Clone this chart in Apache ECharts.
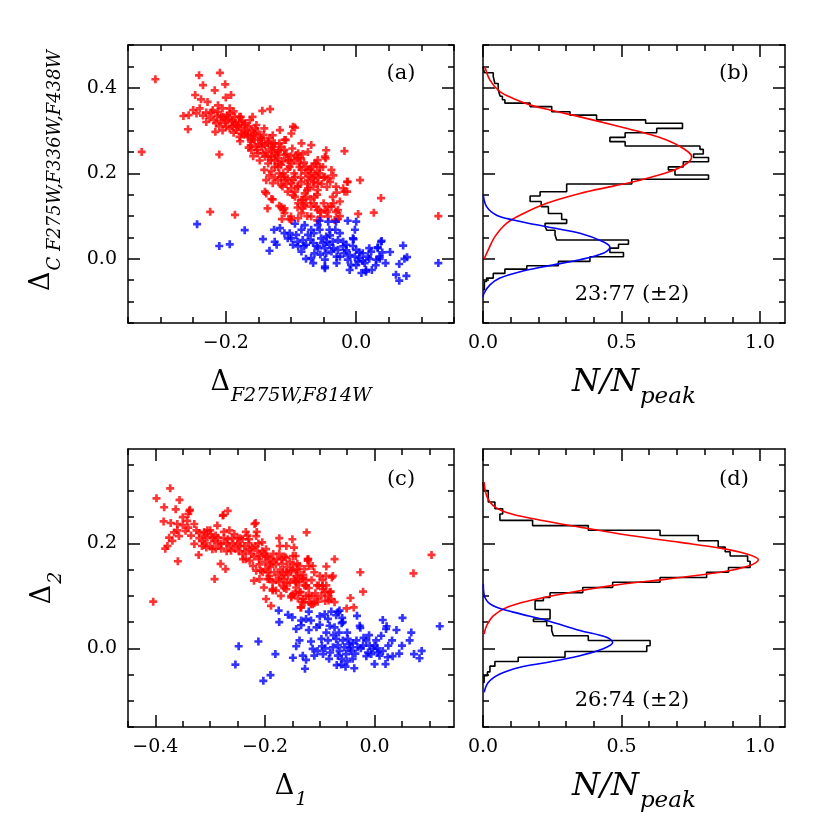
<!DOCTYPE html>
<html><head><meta charset="utf-8">
<script src="https://cdn.jsdelivr.net/npm/echarts@6/dist/echarts.min.js"></script>
<style>html,body{margin:0;padding:0;background:#fff}#c{width:830px;height:830px}</style>
</head><body><div id="c"></div><script>
// ---------------- DATA ----------------
// Panel (a): Delta F275W,F814W vs Delta C F275W,F336W,F438W
const redA = [[-0.329,0.25],[-0.308,0.42],[-0.241,0.429],[-0.209,0.435],[-0.235,0.406],[-0.201,0.408],[-0.217,0.394],[-0.247,0.383],[-0.265,0.334],[-0.258,0.303],[-0.21,0.244],[-0.224,0.11],[-0.186,0.103],[-0.144,0.346],[-0.132,0.35],[-0.094,0.307],[-0.018,0.252],[-0.046,0.254],[0.006,0.184],[-0.014,0.18],[0.038,0.142],[0.027,0.108],[0.003,0.105],[0.126,0.1],[-0.018,0.157],[-0.031,0.11],[-0.038,0.208],[-0.047,0.235],[-0.117,0.301],
[-0.238,0.373],[-0.228,0.367],[-0.2,0.377],[-0.192,0.383],[-0.25,0.348],[-0.257,0.336],[-0.24,0.352],[-0.23,0.342],[-0.216,0.297],[-0.22,0.348],[-0.212,0.359],[-0.205,0.352],[-0.215,0.317],[-0.207,0.332],[-0.2,0.309],[-0.194,0.34],[-0.189,0.324],[-0.184,0.301],[-0.177,0.332],[-0.171,0.313],[-0.179,0.285],[-0.166,0.289],[-0.159,0.332],[-0.161,0.274],[-0.151,0.297],[-0.154,0.262],[-0.146,0.282],[-0.138,0.25],[-0.141,0.305],[-0.136,0.27],[-0.131,0.231],[-0.128,0.289],[-0.141,0.208],[-0.138,0.184],[-0.138,0.153],[-0.128,0.139],[-0.136,0.118],[-0.118,0.254],[-0.12,0.215],[-0.115,0.192],[-0.113,0.169],[-0.118,0.124],[-0.11,0.118],[-0.114,0.093],[-0.108,0.278],[-0.103,0.231],[-0.1,0.099],[-0.097,0.149],[-0.097,0.309],[-0.105,0.188],
[-0.0995,0.293],[-0.069,0.266],[-0.074,0.25],[-0.048,0.239],[-0.061,0.223],[-0.043,0.188],[-0.056,0.2],[-0.031,0.169],[-0.02,0.165],[-0.013,0.18],[-0.014,0.157],[-0.025,0.134],[-0.036,0.145],[-0.038,0.122],[-0.028,0.114],[-0.033,0.091],[-0.028,0.093],[-0.054,0.099],[-0.048,0.114],[-0.061,0.122],[-0.069,0.099],[-0.084,0.107],[-0.089,0.13],[-0.082,0.138],[-0.077,0.145],[-0.112,0.114],[-0.115,0.121],[-0.102,0.093],[-0.13,0.14],[-0.128,0.177],[-0.115,0.173],[-0.11,0.192],[-0.097,0.184],[-0.094,0.157],[-0.084,0.18],[-0.074,0.165],[-0.066,0.188],[-0.059,0.161],[-0.074,0.208],[-0.087,0.215],[-0.0995,0.223],[-0.12,0.223],[-0.13,0.239],[-0.143,0.247],[-0.125,0.27],[-0.11,0.278],[-0.089,0.247],[-0.084,0.27],[-0.059,0.231],[-0.051,0.215],
[-0.191,0.32],[-0.181,0.309],[-0.171,0.317],[-0.161,0.301],[-0.166,0.285],[-0.156,0.278],[-0.145,0.262],[-0.151,0.247],[-0.14,0.239],[-0.13,0.254],[-0.135,0.223],[-0.125,0.215],[-0.12,0.235],[-0.112,0.2],[-0.11,0.184],[-0.102,0.215],[-0.094,0.192],[-0.089,0.169],[-0.084,0.208],[-0.079,0.153],[-0.077,0.13],[-0.069,0.122],[-0.084,0.138],[-0.064,0.145],[-0.059,0.177],[-0.048,0.192],[-0.043,0.122],[-0.089,0.095],[-0.11,0.107],[-0.0995,0.091],[-0.14,0.157],[-0.12,0.184],[-0.161,0.254],[-0.176,0.293],[-0.186,0.332],[-0.194,0.305],[-0.201,0.317],[-0.204,0.332],[-0.212,0.344],[-0.194,0.352],[-0.179,0.332],[-0.163,0.324],[-0.153,0.313],[-0.156,0.293],[-0.145,0.278],[-0.135,0.274],[-0.128,0.27],[-0.125,0.247],[-0.115,0.262],[-0.11,0.243],[-0.105,0.231],[-0.092,0.243],[-0.087,0.223],[-0.077,0.215],[-0.069,0.2],[-0.064,0.223],[-0.056,0.215],[-0.074,0.184],[-0.0995,0.177],[-0.105,0.157],[-0.094,0.145],[-0.066,0.169],[-0.082,0.118],[-0.059,0.114],[-0.043,0.099],
[-0.225,0.33],[-0.218,0.325],[-0.21,0.31],[-0.196,0.328],[-0.186,0.315],[-0.176,0.305],[-0.168,0.3],[-0.158,0.29],[-0.148,0.285],[-0.15,0.268],[-0.14,0.265],[-0.13,0.26],[-0.12,0.25],[-0.11,0.255],[-0.1,0.24],[-0.095,0.23],[-0.085,0.235],[-0.08,0.225],[-0.07,0.21],[-0.06,0.205],[-0.05,0.19],[-0.095,0.2],[-0.085,0.19],[-0.075,0.175],[-0.065,0.18],[-0.105,0.21],[-0.115,0.22],[-0.125,0.23],[-0.135,0.24],[-0.145,0.27],[-0.16,0.28],[-0.17,0.295],[-0.18,0.32],[-0.19,0.31],[-0.2,0.325],[-0.213,0.335],
[-0.222,0.342],[-0.208,0.322],[-0.198,0.336],[-0.188,0.345],[-0.183,0.312],[-0.175,0.322],[-0.165,0.31],[-0.155,0.305],[-0.172,0.29],[-0.162,0.265],[-0.152,0.255],[-0.142,0.29],[-0.133,0.283],[-0.127,0.262],[-0.118,0.27],[-0.122,0.242],[-0.113,0.228],[-0.107,0.245],[-0.098,0.258],[-0.09,0.235],[-0.082,0.245],[-0.078,0.2],[-0.072,0.193],[-0.068,0.215],[-0.063,0.195],[-0.058,0.19],[-0.053,0.175],[-0.045,0.168],[-0.04,0.18],[-0.035,0.195],[-0.03,0.155],[-0.06,0.15],[-0.07,0.14],[-0.075,0.16],[-0.09,0.17],[-0.1,0.165],[-0.107,0.175],[-0.118,0.2],[-0.125,0.19],[-0.13,0.205],[-0.133,0.195],[-0.148,0.23],[-0.158,0.24],[-0.165,0.26],[-0.178,0.275],[-0.188,0.295],[-0.205,0.3],[-0.23,0.32],[-0.235,0.335],[-0.245,0.34],[-0.09,0.12],[-0.08,0.125],[-0.065,0.13],[-0.05,0.13],[-0.055,0.11],[-0.045,0.11],[-0.035,0.13],[-0.025,0.1],[-0.06,0.09],[-0.075,0.1]];
const blueA = [[-0.244,0.081],[-0.21,0.03],[-0.194,0.034],[-0.171,0.067],[-0.143,0.046],[-0.133,0.019],[0.126,-0.01],[0.066,-0.051],[0.061,-0.037],[0.077,-0.04],[0.072,0.031],[0.066,-0.012],[0.074,0.0],[0.078,0.004],[0.052,0.016],[0.039,0.042],[0.036,0.0],[0.033,0.027],[0.024,-0.026],[0.015,-0.026],[0.008,-0.033],[-0.01,-0.026],[-0.013,0.089],[0.0,0.087],[-0.002,0.068],[-0.004,0.046],[-0.032,0.068],[-0.048,-0.022],[-0.077,0.0],
[-0.126,0.068],[-0.117,0.072],[-0.125,0.04],[-0.122,0.033],[-0.102,0.06],[-0.094,0.082],[-0.0995,0.048],[-0.097,0.033],[-0.092,0.056],[-0.084,0.068],[-0.079,0.079],[-0.082,0.044],[-0.084,0.017],[-0.074,0.056],[-0.077,0.033],[-0.066,0.037],[-0.069,0.002],[-0.064,0.013],[-0.066,-0.01],[-0.059,0.079],[-0.056,0.068],[-0.054,0.048],[-0.059,0.025],[-0.051,0.037],[-0.048,0.025],[-0.046,0.013],[-0.048,-0.002],[-0.048,-0.018],[-0.043,0.087],[-0.041,0.068],[-0.041,0.033],[-0.036,0.04],[-0.038,0.017],[-0.031,0.087],[-0.028,0.044],[-0.028,0.021],[-0.025,0.005],[-0.02,0.029],[-0.018,0.013],[-0.015,0.033],[-0.013,-0.002],[-0.01,0.009],[-0.008,-0.014],[-0.005,0.048],[-0.002,0.005],[0.0,0.021],[0.003,-0.006],[0.005,0.002],[0.01,0.013],[0.013,-0.01],[0.015,-0.03],[0.018,0.005],[0.023,0.017],[0.031,-0.002],[0.033,0.025],[0.036,0.005],[0.038,0.04],[-0.046,0.052],[-0.056,0.089],[-0.069,0.068],[-0.089,0.029],[-0.105,0.048],
[-0.06,0.03],[-0.055,0.01],[-0.045,0.04],[-0.035,0.025],[-0.03,0.005],[-0.02,0.04],[-0.015,0.02],[-0.005,0.03],[0.005,0.015],[0.01,-0.005],[0.02,0.0],[-0.07,0.045],[-0.065,0.06],[-0.04,0.055],[-0.025,0.06],[-0.03,-0.01],[0.0,-0.015],[0.02,0.025],[0.04,0.015],[0.045,-0.01],[0.03,-0.015],[-0.08,0.03],[-0.09,0.04],[-0.11,0.06]];

// Panel (b): histogram of Delta C (bin edges, top to bottom) and N/Npeak heights
const histEdgesB = [0.450,0.435,0.426,0.410,0.395,0.380,0.372,0.364,0.356,0.344,0.336,0.325,0.317,0.305,0.295,0.284,0.274,0.264,0.256,0.245,0.237,0.227,0.215,0.208,0.196,0.186,0.175,0.157,0.147,0.134,0.122,0.106,0.092,0.083,0.075,0.067,0.056,0.044,0.034,0.025,0.015,0.005,-0.006,-0.016,-0.024,-0.034,-0.045,-0.053,-0.072];
const histHeightsB = [0.005,0.037,0.043,0.055,0.062,0.07,0.079,0.17,0.248,0.314,0.41,0.587,0.72,0.627,0.513,0.458,0.513,0.783,0.795,0.76,0.814,0.723,0.669,0.693,0.814,0.537,0.302,0.206,0.17,0.21,0.236,0.284,0.302,0.224,0.23,0.26,0.266,0.525,0.489,0.458,0.507,0.386,0.272,0.158,0.079,0.037,0.013,0.005];
const redFitB = [[0.007,0.449],[0.025,0.418],[0.061,0.391],[0.109,0.375],[0.17,0.36],[0.242,0.348],[0.35,0.332],[0.47,0.313],[0.567,0.297],[0.663,0.278],[0.723,0.258],[0.753,0.239],[0.735,0.223],[0.675,0.204],[0.567,0.184],[0.47,0.17],[0.35,0.153],[0.23,0.13],[0.146,0.106],[0.085,0.083],[0.043,0.052],[0.019,0.021],[0.004,0.0]];
const blueFitB = [[0.001,0.149],[0.013,0.122],[0.049,0.102],[0.109,0.091],[0.23,0.075],[0.35,0.06],[0.434,0.04],[0.458,0.027],[0.434,0.013],[0.35,-0.002],[0.23,-0.017],[0.134,-0.03],[0.061,-0.045],[0.025,-0.061],[0.004,-0.08],[0.0,-0.09]];

// Panel (c): Delta1 vs Delta2
const redC = [[-0.404,0.089],[-0.373,0.305],[-0.398,0.286],[-0.384,0.269],[-0.356,0.283],[-0.363,0.265],[-0.359,0.166],[-0.338,0.262],[-0.268,0.262],[-0.277,0.253],[-0.292,0.132],[-0.219,0.237],[-0.124,0.221],[-0.174,0.21],[-0.15,0.208],[-0.121,0.17],[-0.088,0.156],[-0.073,0.17],[-0.1,0.138],[-0.076,0.138],[-0.026,0.145],[-0.021,0.108],[-0.044,0.096],[-0.051,0.076],[-0.038,0.078],[0.071,0.143],[0.104,0.178],[-0.189,0.081],[-0.073,0.088],
[-0.149,0.103],[-0.134,0.078],[-0.128,0.088],[-0.116,0.084],[-0.11,0.086],[-0.089,0.138],[-0.078,0.135],[-0.095,0.119],[-0.091,0.107],[-0.08,0.108],[-0.097,0.1],[-0.084,0.091],[-0.122,0.17],[-0.119,0.157],[-0.125,0.119],[-0.143,0.116],[-0.152,0.097],[-0.174,0.126],[-0.198,0.094],[-0.186,0.11],[-0.161,0.113],[-0.167,0.145],[-0.192,0.138],[-0.21,0.132],[-0.216,0.148],[-0.143,0.138],[-0.131,0.133],[-0.145,0.128],
[-0.337,0.264],[-0.34,0.256],[-0.276,0.254],[-0.385,0.242],[-0.372,0.239],[-0.36,0.237],[-0.342,0.243],[-0.329,0.237],[-0.345,0.224],[-0.366,0.221],[-0.375,0.211],[-0.369,0.205],[-0.357,0.214],[-0.378,0.195],[-0.382,0.19],[-0.32,0.22],[-0.329,0.199],[-0.321,0.178],[-0.311,0.222],[-0.305,0.211],[-0.314,0.205],[-0.299,0.218],[-0.293,0.205],[-0.307,0.192],[-0.296,0.189],[-0.287,0.234],[-0.275,0.222],[-0.286,0.211],[-0.28,0.199],[-0.268,0.208],[-0.281,0.161],[-0.272,0.151],[-0.262,0.186],[-0.256,0.218],[-0.25,0.199],[-0.241,0.18],[-0.235,0.222],[-0.229,0.208],[-0.217,0.239],[-0.215,0.222],[-0.223,0.192],[-0.214,0.186],[-0.228,0.167],[-0.222,0.157],[-0.211,0.17],[-0.205,0.202],[-0.202,0.18],[-0.208,0.148],[-0.22,0.129],[-0.199,0.151],[-0.195,0.132],[-0.202,0.116],[-0.189,0.17],[-0.183,0.145],[-0.186,0.126],[-0.18,0.11],[-0.173,0.195],[-0.174,0.18],[-0.168,0.161],[-0.165,0.132],[-0.171,0.1],[-0.162,0.173],[-0.153,0.148],[-0.147,0.192],[-0.144,0.176],[-0.141,0.161],[-0.147,0.132],[-0.138,0.126],[-0.135,0.107],[-0.132,0.088],[-0.128,0.151],[-0.122,0.167],[-0.135,0.078],
[-0.241,0.208],[-0.228,0.189],[-0.216,0.214],[-0.21,0.176],[-0.198,0.189],[-0.204,0.145],[-0.192,0.132],[-0.186,0.113],[-0.167,0.119],[-0.161,0.145],[-0.152,0.1],[-0.143,0.126],[-0.137,0.107],[-0.131,0.094],[-0.119,0.088],[-0.113,0.084],[-0.104,0.089],[-0.094,0.113],[-0.082,0.107],[-0.079,0.094],[-0.113,0.157],[-0.137,0.157],[-0.149,0.176],[-0.161,0.195],
[-0.31,0.2],[-0.3,0.195],[-0.29,0.215],[-0.28,0.19],[-0.27,0.2],[-0.26,0.21],[-0.255,0.19],[-0.245,0.195],[-0.24,0.17],[-0.235,0.185],[-0.23,0.2],[-0.22,0.175],[-0.2,0.165],[-0.195,0.175],[-0.19,0.155],[-0.18,0.16],[-0.175,0.14],[-0.17,0.17],[-0.16,0.155],[-0.155,0.165],[-0.15,0.15],[-0.14,0.145],[-0.13,0.14],[-0.125,0.13],[-0.115,0.13],[-0.11,0.145],[-0.105,0.12],[-0.12,0.1],[-0.14,0.095],[-0.16,0.125],[-0.17,0.135],[-0.185,0.165],[-0.265,0.225],[-0.25,0.21],[-0.3,0.225],[-0.32,0.21],[-0.34,0.23],[-0.35,0.25],
[-0.335,0.215],[-0.325,0.225],[-0.315,0.195],[-0.305,0.225],[-0.295,0.21],[-0.285,0.2],[-0.275,0.21],[-0.265,0.195],[-0.258,0.2],[-0.248,0.185],[-0.238,0.195],[-0.232,0.215],[-0.225,0.18],[-0.218,0.195],[-0.212,0.2],[-0.205,0.185],[-0.198,0.175],[-0.192,0.16],[-0.185,0.18],[-0.178,0.17],[-0.172,0.15],[-0.165,0.175],[-0.158,0.14],[-0.155,0.125],[-0.148,0.16],[-0.142,0.15],[-0.135,0.135],[-0.128,0.12],[-0.12,0.115],[-0.115,0.1],[-0.108,0.105],[-0.102,0.12],[-0.095,0.13],[-0.088,0.12],[-0.085,0.1],[-0.09,0.09],[-0.105,0.095],[-0.125,0.1],[-0.145,0.105],[-0.165,0.115],[-0.18,0.13],[-0.195,0.145],[-0.21,0.16],[-0.235,0.17],[-0.245,0.21],[-0.27,0.185],[-0.29,0.19],[-0.31,0.215],[-0.35,0.235],[-0.36,0.225]];
const blueC = [[-0.254,-0.031],[-0.248,0.004],[-0.212,0.013],[-0.203,-0.062],[-0.19,-0.051],[-0.181,-0.011],[-0.175,0.072],[-0.174,0.05],[-0.127,-0.039],[-0.149,-0.018],[-0.158,0.064],[-0.12,0.07],[0.119,0.042],[0.086,-0.005],[0.082,-0.019],[0.072,-0.011],[0.064,0.015],[0.067,0.03],[0.051,0.058],[0.04,0.035],[0.022,0.042],[0.015,0.054],[0.032,0.015],[0.02,-0.03],[0.0,-0.03],[0.033,-0.015],[-0.037,-0.038],[-0.053,-0.035],[-0.061,-0.031],[-0.027,0.043],[-0.032,0.062],[-0.06,0.048],[-0.067,0.069],
[-0.15,0.059],[-0.131,-0.014],[-0.125,-0.022],[-0.143,0.004],[-0.137,0.015],[-0.143,0.037],[-0.134,0.044],[-0.134,0.053],[-0.125,0.056],[-0.12,0.035],[-0.116,0.053],[-0.116,0.013],[-0.113,-0.001],[-0.11,-0.014],[-0.104,-0.005],[-0.106,0.04],[-0.1,0.061],[-0.097,0.018],[-0.096,0.004],[-0.094,-0.011],[-0.088,0.03],[-0.085,0.015],[-0.091,0.065],[-0.085,0.056],[-0.082,0.043],[-0.079,0.07],[-0.073,0.04],[-0.07,0.063],[-0.064,0.072],[-0.076,0.002],[-0.081,-0.008],[-0.083,-0.02],[-0.07,0.018],[-0.067,0.006],[-0.064,-0.005],[-0.067,-0.014],[-0.069,-0.032],[-0.058,0.015],[-0.055,0.002],[-0.052,-0.011],[-0.049,0.018],[-0.046,0.008],[-0.043,-0.005],[-0.04,-0.02],[-0.058,0.05],[-0.033,0.015],[-0.031,0.002],[-0.026,0.039],[-0.021,0.005],[-0.015,0.015],[-0.012,-0.008],[-0.009,0.005],[-0.006,-0.011],[-0.003,-0.001],[0.003,0.015],[0.006,-0.008],[0.009,-0.014],[0.012,0.024],[0.021,0.037],[0.024,-0.017],[-0.059,0.058],
[-0.05,0.03],[-0.045,0.0],[-0.04,0.01],[-0.035,-0.01],[-0.025,0.0],[-0.02,0.02],[-0.015,-0.015],[-0.01,0.025],[0.0,0.005],[0.005,0.0],[0.015,-0.005],[0.025,0.005],[-0.06,-0.02],[-0.05,-0.025],[-0.09,0.0],[-0.1,0.045],[-0.075,0.025],[-0.065,0.03],[0.045,-0.01],[0.05,0.005]];

// Panel (d): histogram of Delta2
const histEdgesD = [0.317,0.301,0.279,0.266,0.256,0.244,0.234,0.225,0.215,0.205,0.193,0.184,0.176,0.166,0.154,0.145,0.135,0.126,0.116,0.106,0.097,0.091,0.074,0.056,0.051,0.043,0.034,0.024,0.015,0.005,-0.006,-0.017,-0.025,-0.034,-0.045,-0.052,-0.065];
const histHeightsD = [0.004,0.019,0.043,0.071,0.061,0.179,0.38,0.639,0.777,0.849,0.874,0.892,0.955,0.964,0.886,0.807,0.639,0.468,0.36,0.242,0.218,0.188,0.242,0.182,0.23,0.248,0.254,0.38,0.603,0.591,0.296,0.127,0.043,0.025,0.016,0.004];
const redFitD = [[0.004,0.317],[0.013,0.291],[0.037,0.272],[0.085,0.259],[0.182,0.247],[0.35,0.231],[0.531,0.215],[0.711,0.202],[0.856,0.191],[0.952,0.18],[0.994,0.169],[0.964,0.158],[0.856,0.145],[0.663,0.132],[0.47,0.12],[0.29,0.104],[0.17,0.091],[0.085,0.078],[0.037,0.062],[0.013,0.043],[0.004,0.027]];
const blueFitD = [[0.001,0.123],[0.007,0.097],[0.037,0.081],[0.109,0.069],[0.23,0.053],[0.35,0.034],[0.446,0.021],[0.468,0.011],[0.434,-0.001],[0.35,-0.014],[0.23,-0.027],[0.134,-0.036],[0.061,-0.049],[0.019,-0.065],[0.004,-0.084]];

// Ticks and labels
const xMajorA = [-0.2, 0.0];
const xMinorA = [-0.35,-0.3,-0.25,-0.15,-0.1,-0.05,0.05,0.1,0.15];
const yMajorA = [0.0, 0.2, 0.4];
const yMinorA = [-0.15,-0.1,-0.05,0.05,0.1,0.15,0.25,0.3,0.35,0.45,0.5];
const xMajorB = [0.0, 0.5, 1.0];
const xMinorB = [0.1,0.2,0.3,0.4,0.6,0.7,0.8,0.9];
const xMajorC = [-0.4, -0.2, 0.0];
const xMinorC = [-0.45,-0.35,-0.3,-0.25,-0.15,-0.1,-0.05,0.05,0.1];
const yMajorC = [0.0, 0.2];
const yMinorC = [-0.15,-0.1,-0.05,0.05,0.1,0.15,0.25,0.3,0.35];
const ratioB = '23:77 (\u00b12)';
const ratioD = '26:74 (\u00b12)';
const panelLabels = ['(a)','(b)','(c)','(d)'];

// ---------------- CHART ----------------
const FONT = 'DejaVu Serif';
const BLACK = '#000';
function fmt(v){ return (v < -1e-9 ? '\u2212' : '') + Math.abs(v).toFixed(1); }
const lineSt = {color: BLACK, width: 1.5};

function axes(dim, grid, min, max, major, minor, showLabels, name, nameGap, rich) {
  const pos = dim === 'x' ? ['bottom','top'] : ['left','right'];
  const base = {gridIndex: grid, type: 'value', min: min, max: max, scale: false,
    splitLine: {show: false}, axisPointer: {show: false}};
  const out = [];
  out.push(Object.assign({}, base, {position: pos[0],
    axisLine: {show: true, onZero: false, lineStyle: lineSt},
    axisTick: {show: true, inside: true, length: 12, customValues: major, lineStyle: lineSt},
    axisLabel: {show: showLabels, customValues: major, formatter: fmt, margin: 11,
      fontFamily: FONT, fontSize: 19, color: BLACK},
    name: name || '', nameLocation: 'middle', nameGap: nameGap || 0,
    nameRotate: dim === 'y' ? 90 : 0,
    nameTextStyle: {rich: rich || {}, color: BLACK}
  }));
  out.push(Object.assign({}, base, {position: pos[1],
    axisLine: {show: true, onZero: false, lineStyle: lineSt},
    axisTick: {show: true, inside: true, length: 12, customValues: major, lineStyle: lineSt},
    axisLabel: {show: false}}));
  [pos[0], pos[1]].forEach(p => out.push(Object.assign({}, base, {position: p,
    axisLine: {show: false, onZero: false},
    axisTick: {show: true, inside: true, length: 6, customValues: minor, lineStyle: lineSt},
    axisLabel: {show: false}})));
  return out;
}

const richDelta = {
  d: {fontFamily: FONT, fontSize: 27, lineHeight: 30, color: BLACK},
  dy: {fontFamily: FONT, fontSize: 27, lineHeight: 30, color: BLACK, padding: [0, 0, 0, 27]},
  s: {fontFamily: FONT, fontStyle: 'italic', fontSize: 19, lineHeight: 20, color: BLACK, padding: [26, 0, 0, 1]},
  sy: {fontFamily: FONT, fontStyle: 'italic', fontSize: 18, lineHeight: 20, color: BLACK, padding: [26, 0, 0, 1]}
};
const richN = {
  n: {fontFamily: FONT, fontStyle: 'italic', fontSize: 32, lineHeight: 34, color: BLACK},
  p: {fontFamily: FONT, fontStyle: 'italic', fontSize: 23, lineHeight: 22, color: BLACK, padding: [28, 0, 0, 1]}
};

const grids = [
  {left: 128, top: 45, width: 326, height: 278},
  {left: 483, top: 45, width: 302, height: 278},
  {left: 128, top: 449, width: 326, height: 278},
  {left: 483, top: 449, width: 302, height: 278}
];

const xAxes = [].concat(
  axes('x', 0, -0.35, 0.15, xMajorA, xMinorA, true, '{d|\u0394}{s|F275W,F814W}', 45, richDelta),
  axes('x', 1, 0, 1.09, xMajorB, xMinorB, true, '{n|N/N}{p|peak}', 43, richN),
  axes('x', 2, -0.45, 0.145, xMajorC, xMinorC, true, '{d|\u0394}{s|1}', 45, richDelta),
  axes('x', 3, 0, 1.09, xMajorB, xMinorB, true, '{n|N/N}{p|peak}', 43, richN)
);
const yAxes = [].concat(
  axes('y', 0, -0.15, 0.5, yMajorA, yMinorA, true, '{dy|\u0394}{sy|C F275W,F336W,F438W}', 71, richDelta),
  axes('y', 1, -0.15, 0.5, yMajorA, yMinorA, false),
  axes('y', 2, -0.15, 0.38, yMajorC, yMinorC, true, '{d|\u0394}{s|2}', 70, richDelta),
  axes('y', 3, -0.15, 0.38, yMajorC, yMinorC, false)
);

function stepPath(edges, heights) {
  const pts = [[0, edges[0]]];
  for (let i = 0; i < heights.length; i++) {
    pts.push([heights[i], edges[i]]);
    pts.push([heights[i], edges[i + 1]]);
  }
  pts.push([0, edges[edges.length - 1]]);
  return pts;
}

const PLUS = 'path://M2,0H4V2H6V4H4V6H2V4H0V2H2Z';
function scatter(data, color, g) {
  return {type: 'scatter', xAxisIndex: g * 4, yAxisIndex: g * 4, data: data,
    symbol: PLUS, symbolSize: 8, itemStyle: {color: color}, silent: true, animation: false};
}
function line(data, color, g, smooth) {
  return {type: 'line', xAxisIndex: g * 4, yAxisIndex: g * 4, data: data, showSymbol: false,
    symbol: 'none', smooth: smooth ? 0.35 : false,
    lineStyle: {color: color, width: 1.6}, silent: true, animation: false, clip: true};
}

const textStyle = (t, x, y) => ({type: 'text', x: x, y: y, silent: true,
  style: {text: t, font: '21px "' + FONT + '"', fill: BLACK, textAlign: 'center', textVerticalAlign: 'middle'}});

const chart = echarts.init(document.getElementById('c'), null, {renderer: 'canvas'});
chart.setOption({
  backgroundColor: '#fff',
  animation: false,
  grid: grids.map(g => Object.assign({outerBoundsMode: 'none', containLabel: false}, g)),
  xAxis: xAxes,
  yAxis: yAxes,
  series: [
    scatter(redA, '#ff0000', 0),
    scatter(blueA, '#0000ff', 0),
    line(stepPath(histEdgesB, histHeightsB), BLACK, 1, false),
    line(redFitB, '#ff0000', 1, true),
    line(blueFitB, '#0000ff', 1, true),
    scatter(redC, '#ff0000', 2),
    scatter(blueC, '#0000ff', 2),
    line(stepPath(histEdgesD, histHeightsD), BLACK, 3, false),
    line(redFitD, '#ff0000', 3, true),
    line(blueFitD, '#0000ff', 3, true)
  ],
  graphic: [
    textStyle(panelLabels[0], 401, 74),
    textStyle(panelLabels[1], 734, 74),
    textStyle(panelLabels[2], 401, 480),
    textStyle(panelLabels[3], 734, 480),
    textStyle(ratioB, 632, 295),
    textStyle(ratioD, 632, 701)
  ]
});
</script></body></html>
